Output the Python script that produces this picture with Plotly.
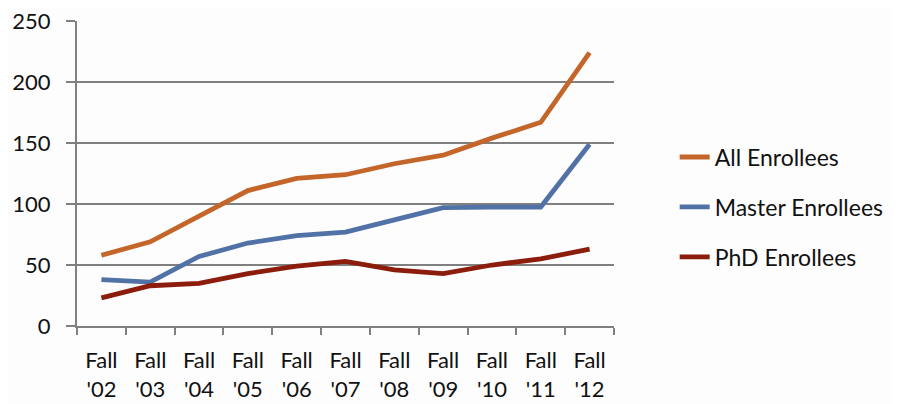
import plotly.graph_objects as go

categories = ["Fall<br>'02", "Fall<br>'03", "Fall<br>'04", "Fall<br>'05", "Fall<br>'06", "Fall<br>'07",
              "Fall<br>'08", "Fall<br>'09", "Fall<br>'10", "Fall<br>'11", "Fall<br>'12"]
all_enrollees = [58, 69, 90, 111, 121, 124, 133, 140, 154, 167, 224]
master_enrollees = [38, 36, 57, 68, 74, 77, 87, 97, 97.5, 97.5, 149]
phd_enrollees = [23, 33, 35, 43, 49, 53, 46, 43, 50, 55, 63]
y_ticks = [0, 50, 100, 150, 200, 250]

series = [
    ("All Enrollees", all_enrollees, "#C4652A"),
    ("Master Enrollees", master_enrollees, "#5072A7"),
    ("PhD Enrollees", phd_enrollees, "#8C1C0C"),
]

fig = go.Figure()
for i, (name, vals, color) in enumerate(series):
    fig.add_trace(go.Scatter(x=categories, y=vals, name=name, mode="lines",
                             line=dict(color=color, width=4.8),
                             legendgroup=f"g{i}"))

font_family = "Lato, Open Sans, sans-serif"
fig.update_layout(
    template="none",
    width=899, height=404,
    margin=dict(l=69, r=293, t=13, b=86, pad=0),
    paper_bgcolor="#FDFDFD", plot_bgcolor="#FDFDFD",
    font=dict(family=font_family, size=22, color="#111111"),
    showlegend=True,
    legend=dict(x=1.113, y=0.39, xanchor="left", yanchor="middle",
                tracegroupgap=17, font=dict(size=23, color="#111111"),
                bgcolor="rgba(0,0,0,0)", borderwidth=0),
    xaxis=dict(
        type="category", showgrid=False, showline=True, linecolor="#808080", linewidth=2,
        ticks="outside", tickson="boundaries", ticklen=7, tickcolor="#808080", tickwidth=2,
        tickfont=dict(size=22), range=[-0.5, 10.5], automargin=False,
        ticklabelstandoff=14, ticklabeloverflow="allow",
    ),
    yaxis=dict(
        range=[0, 250], tickvals=y_ticks, showgrid=True, gridcolor="#808080", gridwidth=2,
        showline=True, linecolor="#808080", linewidth=2, ticks="outside", ticklen=9,
        tickcolor="#808080", tickwidth=2, tickfont=dict(size=22), zeroline=False,
        automargin=False, ticklabelstandoff=11, ticklabeloverflow="allow",
    ),
)

fig.write_html("out.html")
